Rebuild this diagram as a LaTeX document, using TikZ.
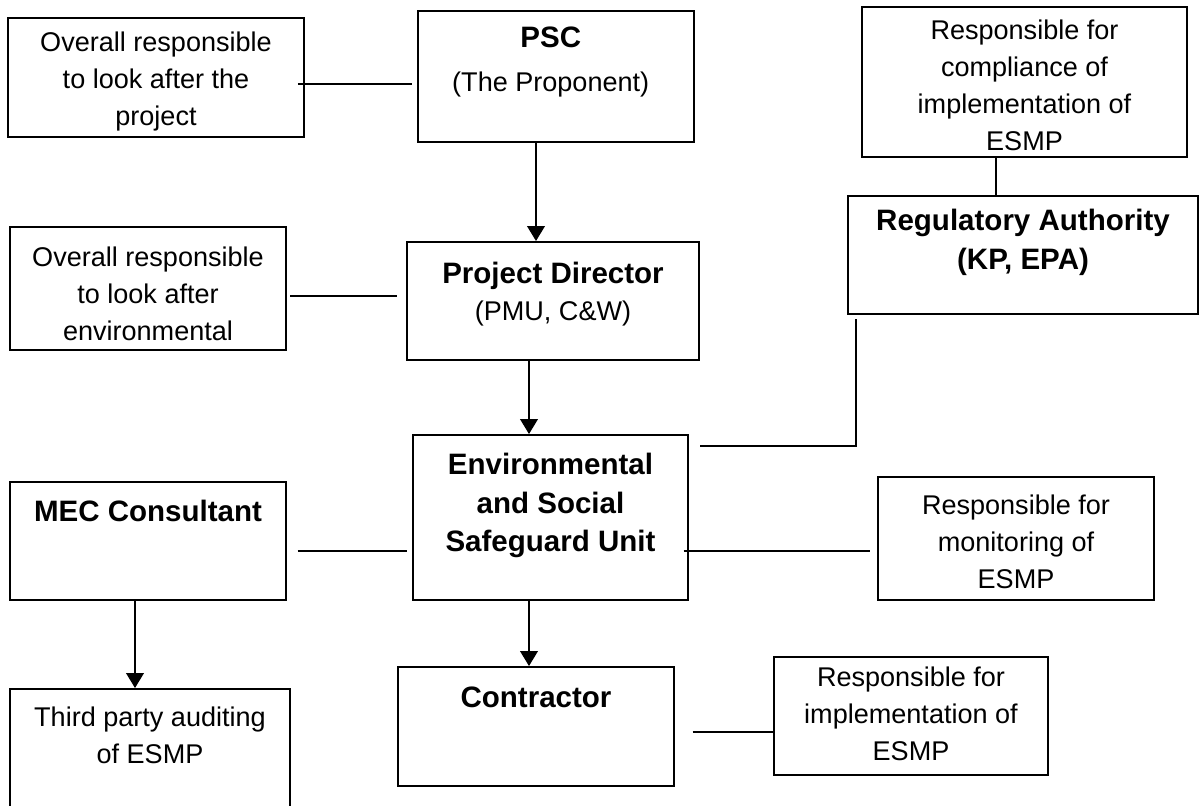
\documentclass[tikz,border=0pt]{standalone}
\usepackage{fontspec}
\setmainfont{Liberation Sans}
\usetikzlibrary{arrows.meta,fit}

\newcommand{\hdr}[1]{{\fontsize{16.8}{21.6}\selectfont\bfseries #1}}

\begin{document}
\begin{tikzpicture}[x=0.02cm, y=-0.02cm,
        box/.style={draw, line width=1.1pt, inner sep=0pt},
        txt/.style={align=center, inner sep=0pt, anchor=north, font=\fontsize{15.4}{21}\selectfont},
        headtxt/.style={txt, font=\fontsize{16.8}{21.8}\selectfont\bfseries},
        link/.style={line width=1.1pt},
        arr/.style={line width=1.1pt, -{Triangle[length=8.5pt, width=10pt]}}]

        \useasboundingbox (0,0) rectangle (1204,805);

        % boxes
        \node[box, fit={(8,18) (304,137)}] (own) {};
        \node[box, fit={(418,11) (694,142)}] (psc) {};
        \node[box, fit={(862,7) (1187,157)}] (comp) {};
        \node[box, fit={(848,196) (1198,314)}] (reg) {};
        \node[box, fit={(10,227) (286,350)}] (envr) {};
        \node[box, fit={(407,242) (699,360)}] (pd) {};
        \node[box, fit={(413,435) (688,600)}] (essu) {};
        \node[box, fit={(10,482) (286,600)}] (mec) {};
        \node[box, fit={(878,477) (1154,600)}] (mon) {};
        \node[box, fit={(398,667) (674,786)}] (con) {};
        \node[box, fit={(774,657) (1048,775)}] (impl) {};
        \node[box, fit={(10,689) (290,830)}] (audit) {};

        % texts
        \node[txt] (own-t) at (own.north |- 0,32) {Overall responsible\\to look after the\\project};
        \node[txt] (psc-t) at ([xshift=-3pt]psc.north |- 0,27) {\hdr{PSC}\\[4pt](The Proponent)};
        \node[txt] (comp-t) at (comp.north |- 0,20) {Responsible for\\compliance of\\implementation of\\ESMP};
        \node[headtxt] (reg-t) at (reg.north |- 0,209) {Regulatory Authority\\(KP, EPA)};
        \node[txt] (envr-t) at (envr.north |- 0,247) {Overall responsible\\to look after\\environmental};
        \node[txt] (pd-t) at (pd.north |- 0,262) {\hdr{Project Director}\\(PMU, C\&W)};
        \node[headtxt] (essu-t) at (essu.north |- 0,453) {Environmental\\and Social\\Safeguard Unit};
        \node[headtxt] (mec-t) at (mec.north |- 0,500) {MEC Consultant};
        \node[txt] (mon-t) at (mon.north |- 0,495) {Responsible for\\monitoring of\\ESMP};
        \node[headtxt] (con-t) at (con.north |- 0,687) {Contractor};
        \node[txt] (impl-t) at (impl.north |- 0,667) {Responsible for\\implementation of\\ESMP};
        \node[txt] (audit-t) at (audit.north |- 0,707) {Third party auditing\\of ESMP};

        % connectors
        \draw[link, shorten <=-4pt, shorten >=3pt] (own.east |- 0,84) -- (psc.west |- 0,84);
        \draw[arr] (psc.south -| 536,0) -- (pd.north -| 536,0);
        \draw[link] (comp.south -| 996,0) -- (reg.north -| 996,0);
        \draw[link, shorten <=2pt, shorten >=5pt] (envr.east |- 0,296) -- (pd.west |- 0,296);
        \draw[arr] (pd.south -| 529,0) -- (essu.north -| 529,0);
        \draw[link] ([yshift=-2.5pt]reg.south -| 856,0) |- ([xshift=6pt]essu.east |- 0,446);
        \draw[link, shorten <=6pt, shorten >=3pt] (mec.east |- 0,551) -- (essu.west |- 0,551);
        \draw[link, shorten <=-3pt, shorten >=4pt] (essu.east |- 0,551) -- (mon.west |- 0,551);
        \draw[arr] (mec.south -| 135,0) -- (audit.north -| 135,0);
        \draw[arr] (essu.south -| 529,0) -- (con.north -| 529,0);
        \draw[link, shorten <=10pt] (con.east |- 0,732) -- (impl.west |- 0,732);
    \end{tikzpicture}
\end{document}
